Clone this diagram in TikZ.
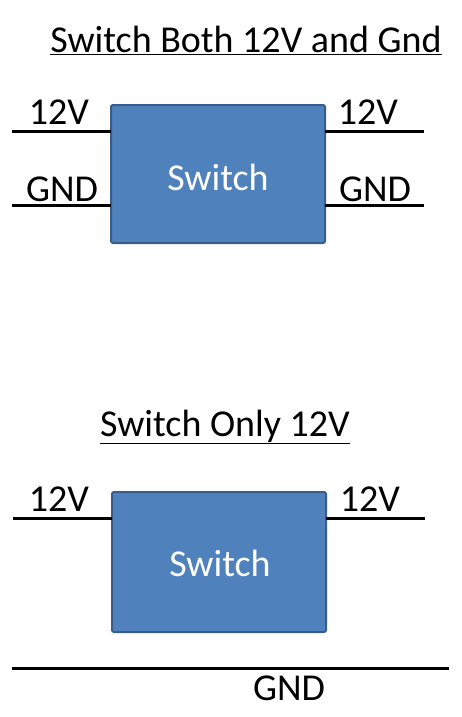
\documentclass[tikz,border=0pt]{standalone}
\usepackage{fontspec}
\setmainfont{Carlito}
\definecolor{boxfill}{HTML}{4F81BD}
\definecolor{boxline}{HTML}{385D8A}
\begin{document}
\begin{tikzpicture}[x=1pt,y=-1pt,
  swbox/.style={draw=boxline,fill=boxfill,line width=2pt,rounded corners=2pt},
  wire/.style={line width=3pt},
  lbl/.style={font=\fontsize{38}{38}\selectfont,inner sep=0pt},
  swtext/.style={font=\fontsize{38}{38}\selectfont,text=white,inner sep=0pt},
  ttl/.style={font=\fontsize{38}{38}\selectfont,inner sep=0pt}]
\useasboundingbox (0,0) rectangle (462,717);
% titles
\node[ttl] (t1) at (246,40) {\underline{Switch Both 12V and Gnd}};
\node[ttl] (t2) at (225,427) {\underline{Switch Only 12V}};
% top diagram
\draw[swbox] (111,105) rectangle (325,243);
\node[swtext] (s1) at (218,177) {Switch};
\coordinate (a1) at (12,131); \coordinate (a2) at (111,131);
\coordinate (a3) at (325,131); \coordinate (a4) at (424,131);
\coordinate (b1) at (12,205); \coordinate (b2) at (111,205);
\coordinate (b3) at (325,205); \coordinate (b4) at (424,205);
\draw[wire] (a1) -- (a2); \draw[wire] (a3) -- (a4);
\draw[wire] (b1) -- (b2); \draw[wire] (b3) -- (b4);
\node[lbl] (l1) at (59,112) {12V};
\node[lbl] (l2) at (368,112) {12V};
\node[lbl] (l3) at (62,189) {GND};
\node[lbl] (l4) at (375,189) {GND};
% bottom diagram
\draw[swbox] (112,492) rectangle (326,632);
\node[swtext] (s2) at (220,563) {Switch};
\coordinate (c1) at (13,518); \coordinate (c2) at (112,518);
\coordinate (c3) at (326,518); \coordinate (c4) at (425,518);
\coordinate (g1) at (12,668); \coordinate (g2) at (449,668);
\draw[wire] (c1) -- (c2); \draw[wire] (c3) -- (c4);
\draw[wire] (g1) -- (g2);
\node[lbl] (l5) at (59,499) {12V};
\node[lbl] (l6) at (370,499) {12V};
\node[lbl] (l7) at (289,688) {GND};
\end{tikzpicture}
\end{document}
